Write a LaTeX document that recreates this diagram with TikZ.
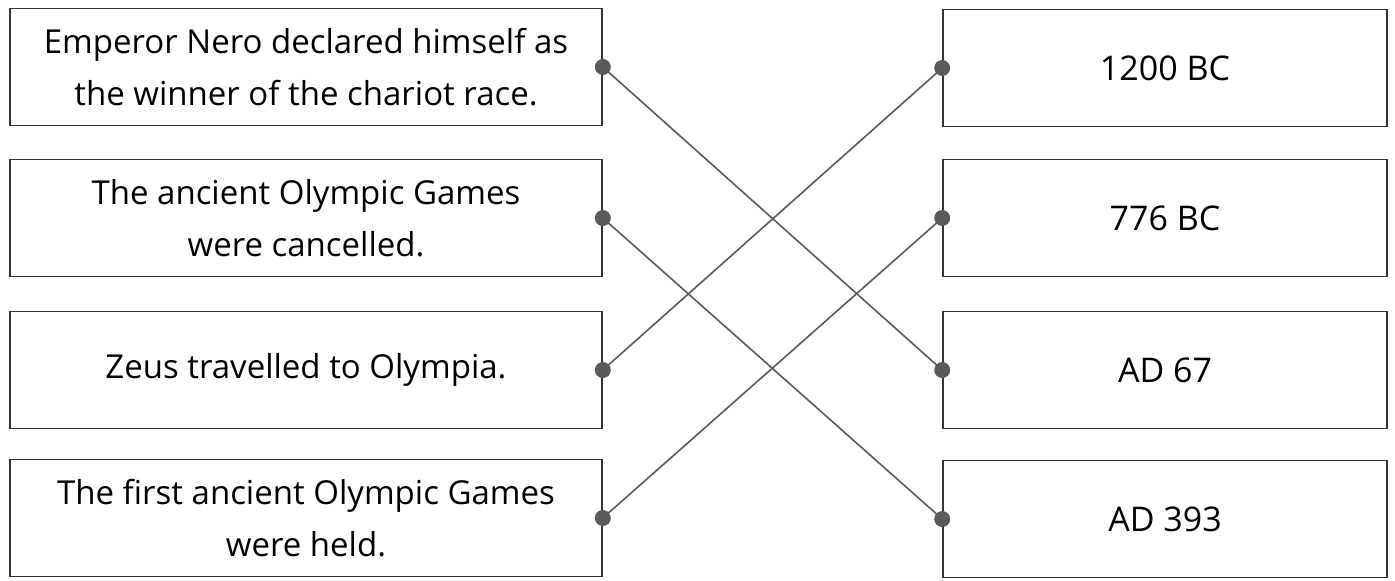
\documentclass[tikz,border=0pt]{standalone}
\usepackage{fontspec}
\setmainfont{Open Sans}
\usepackage{tikz}
\usepackage{xcolor}

\definecolor{linegray}{HTML}{5A5A5A}
\tikzset{
  event/.style={rectangle, draw=black!80, line width=0.8pt, minimum width=296pt, minimum height=58.5pt, inner sep=0pt, align=center, font=\fontsize{16.5}{26}\selectfont},
  date/.style={rectangle, draw=black!80, line width=0.8pt, minimum width=222pt, minimum height=58.5pt, inner sep=0pt, font=\fontsize{17}{20}\selectfont},
  dot/.style={circle, fill=linegray, inner sep=0pt, minimum size=8pt},
  link/.style={draw=linegray, line width=0.8pt}
}

\begin{document}
\begin{tikzpicture}[x=0.5pt, y=-0.5pt]
\useasboundingbox (0,0) rectangle (1395,580);

% events
\node[event] (Ev1) at (306,67) {Emperor Nero declared himself as\\the winner of the chariot race.};
\node[event] (Ev2) at (306,218) {The ancient Olympic Games\\were cancelled.};
\node[event] (Ev3) at (306,370) {Zeus travelled to Olympia.};
\node[event] (Ev4) at (306,518) {The first ancient Olympic Games\\were held.};

% dates
\node[date] (Dt1) at (1165,68) {1200 BC};
\node[date] (Dt2) at (1165,218) {776 BC};
\node[date] (Dt3) at (1165,370) {AD 67};
\node[date] (Dt4) at (1165,519) {AD 393};

% matching lines
\draw[link] (Ev1.east) -- (Dt3.west);
\draw[link] (Ev2.east) -- (Dt4.west);
\draw[link] (Ev3.east) -- (Dt1.west);
\draw[link] (Ev4.east) -- (Dt2.west);

\foreach \i in {1,...,4} {
  \node[dot] (L\i) at (Ev\i.east) {};
  \node[dot] (R\i) at (Dt\i.west) {};
}
\end{tikzpicture}
\end{document}
